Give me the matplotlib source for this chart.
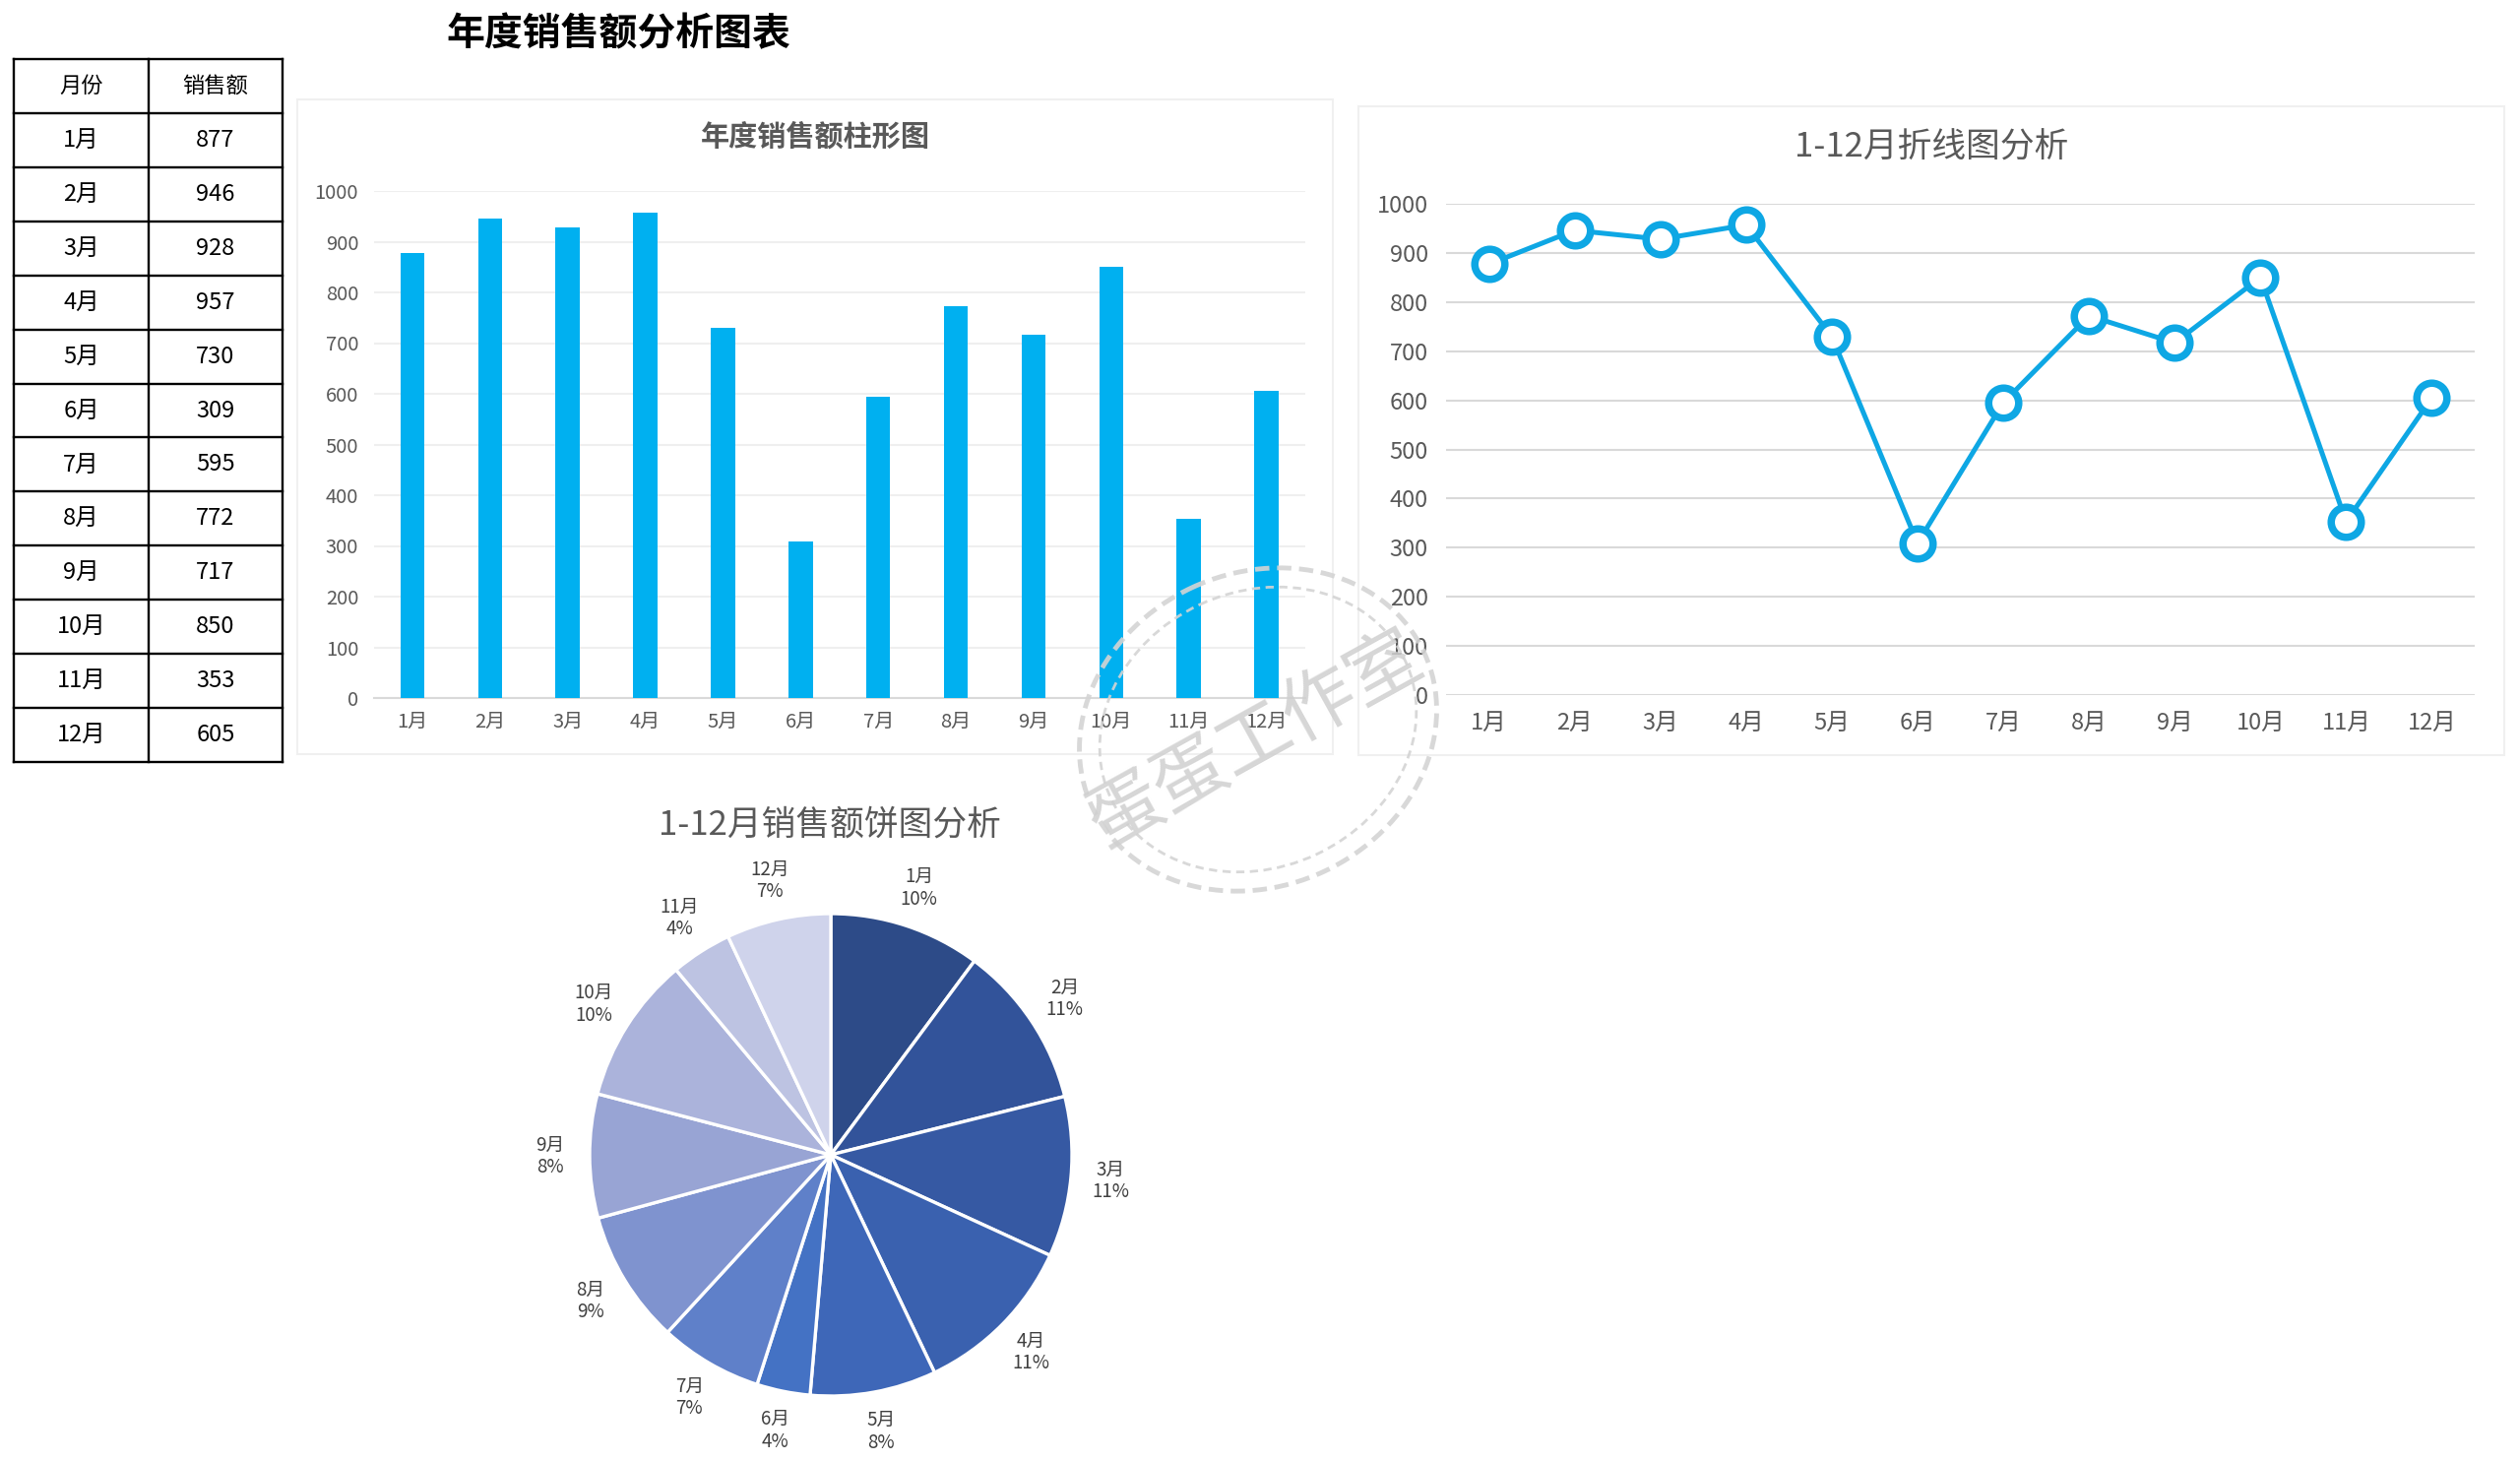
import matplotlib
matplotlib.use("Agg")
import matplotlib.pyplot as plt
from matplotlib.patches import Ellipse, Rectangle
import numpy as np

plt.rcParams['font.family'] = ['Noto Sans CJK SC', 'DejaVu Sans']

# ---------------- data ----------------
months = ['1月', '2月', '3月', '4月', '5月', '6月', '7月', '8月', '9月', '10月', '11月', '12月']
sales = [877, 946, 928, 957, 730, 309, 595, 772, 717, 850, 353, 605]
yticks = [0, 100, 200, 300, 400, 500, 600, 700, 800, 900, 1000]
table_header = ['月份', '销售额']
pie_colors = ['#2D4B88', '#32539A', '#3659A3', '#3A61AF', '#3E67B8', '#4472C4',
              '#5F80C9', '#7F93CF', '#98A4D4', '#ABB3DB', '#BDC3E2', '#CFD3EB']

W, H = 2560, 1484
fig = plt.figure(figsize=(W / 100, H / 100), dpi=100, facecolor='white')

def frac(x0, y0, x1, y1):
    return [x0 / W, 1 - y1 / H, (x1 - x0) / W, (y1 - y0) / H]

# background overlay (pixel coords)
bg = fig.add_axes([0, 0, 1, 1], zorder=0)
bg.set_xlim(0, W); bg.set_ylim(H, 0); bg.axis('off')

# main title
bg.text(628, 35, '年度销售额分析图表', fontsize=28, fontweight='bold', color='black',
        ha='center', va='center')

# panel borders
bg.add_patch(Rectangle((302, 101), 1052, 665, fill=False, ec='#F0F0F0', lw=1.5))
bg.add_patch(Rectangle((1380, 108), 1164, 659, fill=False, ec='#F0F0F0', lw=1.5))

# table
tx0, tx1, tx2 = 14, 151, 287
ty0, ty1 = 60, 774
nrows = len(months) + 1
rh = (ty1 - ty0) / nrows
for i in range(nrows + 1):
    bg.plot([tx0, tx2], [ty0 + i * rh] * 2, color='black', lw=1.7, solid_capstyle='projecting')
for x in (tx0, tx1, tx2):
    bg.plot([x, x], [ty0, ty1], color='black', lw=1.7, solid_capstyle='projecting')
bg.text((tx0 + tx1) / 2, ty0 + rh / 2, table_header[0], fontsize=16, ha='center', va='center')
bg.text((tx1 + tx2) / 2, ty0 + rh / 2, table_header[1], fontsize=16, ha='center', va='center')
for i, (m, v) in enumerate(zip(months, sales)):
    yc = ty0 + (i + 1.5) * rh
    bg.text((tx0 + tx1) / 2, yc, m, fontsize=17, ha='center', va='center')
    bg.text((tx1 + tx2) / 2, yc, str(v), fontsize=17, ha='center', va='center')

grey_txt = '#595959'

# ---------------- bar chart ----------------
ax1 = fig.add_axes(frac(379.5, 194, 1326, 709), zorder=2)
ax1.bar(range(len(months)), sales, width=0.31, color='#00B0F0', zorder=3)
ax1.set_xlim(-0.5, 11.5)
ax1.set_ylim(0, 1000)
ax1.set_yticks(yticks)
ax1.set_xticks(range(len(months)))
ax1.set_xticklabels(months)
ax1.yaxis.grid(True, color='#EFEFEF', lw=1.5, zorder=0)
ax1.set_axisbelow(True)
for s in ('top', 'right', 'left'):
    ax1.spines[s].set_visible(False)
ax1.spines['bottom'].set_color('#D9D9D9')
ax1.spines['bottom'].set_linewidth(1.5)
ax1.tick_params(axis='both', length=0, labelsize=14.5, labelcolor=grey_txt)
ax1.tick_params(axis='y', pad=11)
ax1.tick_params(axis='x', pad=10)
ax1.set_facecolor('none')
bg.text(828, 139, '年度销售额柱形图', fontsize=21, fontweight='bold', color=grey_txt,
        ha='center', va='center')

# ---------------- line chart ----------------
ax2 = fig.add_axes(frac(1469, 207, 2514, 706), zorder=2)
ax2.plot(range(len(months)), sales, color='#0EA7E4', lw=3.6, marker='o', ms=22,
         mfc='white', mec='#0EA7E4', mew=5.4, clip_on=False, zorder=3)
ax2.set_xlim(-0.5, 11.5)
ax2.set_ylim(0, 1000)
ax2.set_yticks(yticks)
ax2.set_xticks(range(len(months)))
ax2.set_xticklabels(months)
ax2.yaxis.grid(True, color='#D9D9D9', lw=1.5, zorder=0)
ax2.set_axisbelow(True)
for s in ax2.spines.values():
    s.set_visible(False)
ax2.tick_params(axis='both', length=0, labelsize=17, labelcolor=grey_txt)
ax2.tick_params(axis='y', pad=13)
ax2.tick_params(axis='x', pad=12)
ax2.set_facecolor('none')
bg.text(1962, 150, '1-12月折线图分析', fontsize=25, color=grey_txt, ha='center', va='center')

# ---------------- pie chart ----------------
cx, cy, half = 844, 1173, 320
ax3 = fig.add_axes(frac(cx - half, cy - half, cx + half, cy + half), zorder=2)
total = sum(sales)
pie_labels = [f'{m}\n{round(v / total * 100):.0f}%' for m, v in zip(months, sales)]
wedges, texts = ax3.pie(sales, labels=pie_labels, colors=pie_colors, startangle=90,
                        counterclock=False, radius=245 / half, labeldistance=1.165,
                        wedgeprops=dict(edgecolor='white', linewidth=2.4),
                        textprops=dict(fontsize=13.5, color='#404040', linespacing=1.1))
for t in texts:
    t.set_ha('center'); t.set_va('center')
ax3.set_xlim(-1, 1); ax3.set_ylim(-1, 1)
ax3.set_aspect('equal')
ax3.axis('off')
bg.text(843, 838, '1-12月销售额饼图分析', fontsize=25, color=grey_txt, ha='center', va='center')

# ---------------- watermark stamp ----------------
fg = fig.add_axes([0, 0, 1, 1], zorder=10)
fg.set_xlim(0, W); fg.set_ylim(H, 0); fg.axis('off'); fg.patch.set_alpha(0)
fg.add_patch(Ellipse((1278, 741), 372, 318, angle=-25, fill=False, ec='#D4D4D4',
                     lw=3.5, ls=(0, (3, 1.6)), alpha=0.9))
fg.add_patch(Ellipse((1278, 741), 330, 280, angle=-25, fill=False, ec='#D4D4D4',
                     lw=2.0, ls=(0, (3, 2)), alpha=0.9))
fg.text(1276, 752, '蛋蛋工作室', fontsize=54, color='#CFCFCF', rotation=29,
        ha='center', va='center', fontweight='light', alpha=0.85)

fig.savefig('out.png', dpi=100, facecolor='white')
